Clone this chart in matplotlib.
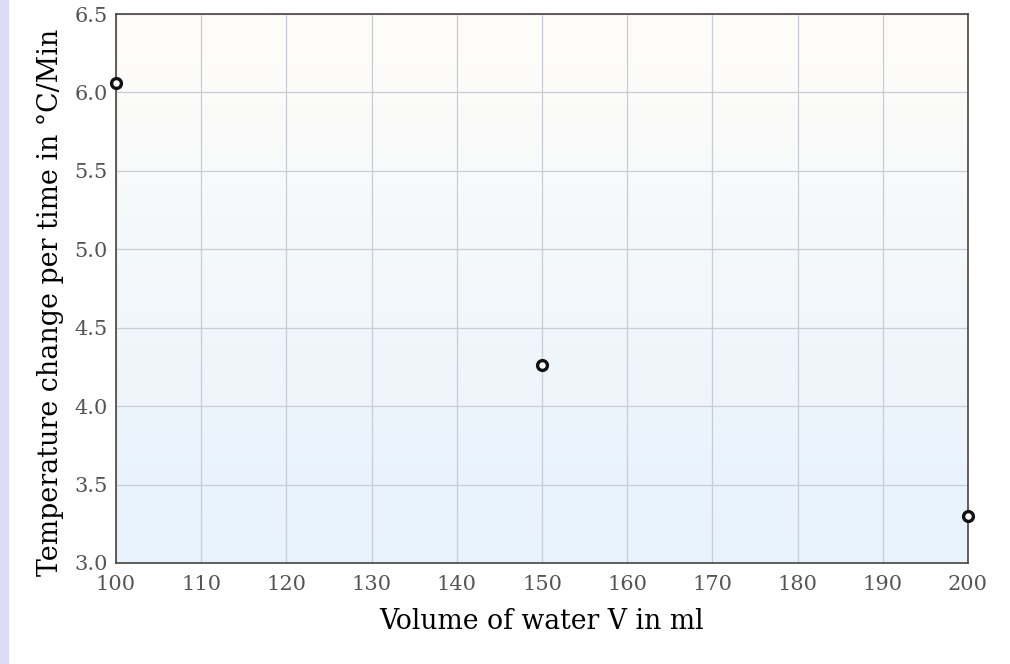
import matplotlib.pyplot as plt
import numpy as np
from matplotlib.patches import Rectangle
from matplotlib.colors import LinearSegmentedColormap

# Measured data
volume = [100, 150, 200]
temp_rate = [6.06, 4.26, 3.30]

x_ticks = [100, 110, 120, 130, 140, 150, 160, 170, 180, 190, 200]
y_ticks = [3.0, 3.5, 4.0, 4.5, 5.0, 5.5, 6.0, 6.5]

plt.rcParams['font.family'] = 'DejaVu Serif'

fig = plt.figure(figsize=(10.1, 6.64), dpi=100)
ax = fig.add_axes([116 / 1010, 1 - 563 / 664, (968 - 116) / 1010, (563 - 14) / 664])

# lavender strip on the left edge
fig.patches.append(Rectangle((0, 0), 8 / 1010, 1, transform=fig.transFigure,
                             color='#dcdcf6', zorder=0))

# background gradient (white at top to light blue at bottom)
cmap = LinearSegmentedColormap.from_list('bg', ['#fffdf9', '#e6f2fd'])
grad = np.linspace(0, 1, 256).reshape(-1, 1)
ax.imshow(grad, cmap=cmap, aspect='auto', origin='upper',
          extent=[100, 200, 3.0, 6.5], zorder=0)

ax.set_xlim(100, 200)
ax.set_ylim(3.0, 6.5)
ax.set_xticks(x_ticks)
ax.set_yticks(y_ticks)
ax.set_yticklabels([f"{v:.1f}" for v in y_ticks])
ax.grid(True, color='#c8ccd4', linewidth=0.9)
ax.set_axisbelow(True)

ax.scatter(volume, temp_rate, s=50, facecolor='white', edgecolor='#111111',
           linewidth=2.4, zorder=5, clip_on=False)

for s in ax.spines.values():
    s.set_color('#4a4440')
    s.set_linewidth(1.2)

ax.tick_params(length=0, labelsize=15, labelcolor='#555555')
ax.tick_params(axis='y', pad=6)
ax.tick_params(axis='x', pad=9)

ax.set_xlabel("Volume of water V in ml", fontsize=19.2, labelpad=10)
ax.set_ylabel("Temperature change per time in °C/Min", fontsize=19.4)
ax.yaxis.set_label_coords(-0.061, 0.4745)

fig.savefig("out.png", dpi=100)
